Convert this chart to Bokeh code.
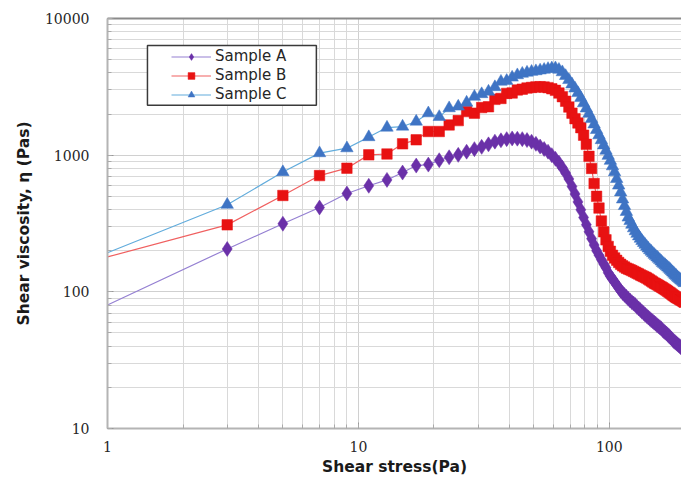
from bokeh.plotting import figure
from bokeh.models import (LogAxis, FixedTicker, BasicTickFormatter, Legend, LegendItem,
                          BoxAnnotation, ColumnDataSource, Range1d)
from bokeh.embed import file_html
from bokeh.resources import INLINE

stress = [1, 3, 5, 7, 9, 11, 13, 15, 17, 19,
          21, 23, 25, 27, 29, 31, 33, 35, 37, 39,
          41, 43, 45, 47, 49, 51, 53, 55, 57, 59,
          61, 63, 65, 67, 69, 71, 73, 75, 77, 79,
          81, 83, 85, 87, 89, 91, 93, 95, 97, 99,
          101, 103, 105, 107, 109, 111, 113, 115, 117, 119,
          121, 123, 125, 127, 129, 131, 133, 135, 137, 139,
          141, 143, 145, 147, 149, 151, 153, 155, 157, 159,
          161, 163, 165, 167, 169, 171, 173, 175, 177, 179,
          181, 183, 185, 187, 189, 191, 193, 195, 197, 199]

sample_a = [80, 206, 315, 414, 524, 597, 659, 746, 839, 853,
            918, 965, 1005, 1060, 1107, 1150, 1200, 1256, 1285, 1310,
            1325, 1320, 1310, 1290, 1255, 1210, 1156, 1110, 1060, 1000,
            940, 880, 810, 740, 670, 590, 520, 455, 398, 350,
            310, 275, 245, 220, 200, 185, 172, 160, 150, 138,
            130, 124, 118, 112, 107, 102, 98, 95, 92, 89,
            86.5, 84, 82, 80, 77.5, 75.5, 73.5, 71.5, 70, 68,
            66.5, 65, 63.5, 62, 61, 59.5, 58.5, 57, 56, 55,
            54, 52.5, 51.5, 50.5, 49.5, 48.5, 47.5, 46.5, 45.5, 44.5,
            43.5, 42.8, 42, 41.3, 40.6, 40, 39.3, 38.6, 38, 37.4]

sample_b = [180, 309, 507, 709, 803, 1005, 1020, 1210, 1295, 1490,
            1490, 1665, 1790, 2084, 2030, 2230, 2260, 2560, 2600, 2830,
            2850, 3000, 3040, 3100, 3130, 3160, 3170, 3150, 3120, 3060,
            2980, 2850, 2680, 2480, 2250, 2030, 1850, 1720, 1590, 1400,
            1200, 980, 800, 620, 500, 410, 330, 275, 240, 215,
            198, 185, 177, 170, 164, 159, 155, 152, 149, 147,
            145, 143, 141, 139, 137, 135, 133, 131, 129.5, 128,
            126, 124, 122, 120, 118, 116, 114.5, 113, 111.5, 110,
            108.5, 107, 105.5, 104, 102.5, 101, 99.5, 98, 96.5, 95,
            93.5, 92, 91, 90, 89, 88, 87, 86, 85, 84]

sample_c = [193, 434, 752, 1035, 1125, 1356, 1592, 1620, 1762, 2027,
            1905, 2208, 2270, 2425, 2680, 2800, 2920, 3150, 3452, 3500,
            3700, 3850, 3950, 4020, 4080, 4120, 4170, 4220, 4280, 4320,
            4330, 4220, 4050, 3800, 3550, 3300, 3080, 2850, 2620, 2400,
            2200, 2010, 1840, 1680, 1530, 1400, 1290, 1180, 1080, 990,
            910, 830, 750, 670, 600, 535, 475, 425, 385, 350,
            330, 310, 292, 278, 266, 255, 245, 236, 228, 221,
            214, 208, 202, 197, 192, 187, 183, 179, 175, 171,
            167, 163, 160, 157, 154, 151, 148, 145, 142, 139,
            136, 133, 131, 128, 126, 124, 122, 120, 118, 116]

series_names = ["Sample A", "Sample B", "Sample C"]

p = figure(width=681, height=478, x_axis_type="log", y_axis_type="log",
           x_range=Range1d(1, 194), y_range=Range1d(10, 10000),
           output_backend="svg", toolbar_location=None,
           min_border_left=107, min_border_right=0, min_border_top=18, min_border_bottom=0)
p.outline_line_color = None
p.background_fill_color = "white"
p.border_fill_color = "white"

# grid
for g in (p.xgrid[0], p.ygrid[0]):
    g.grid_line_color = "#d0d0d0"
    g.grid_line_width = 1
    g.minor_grid_line_color = "#d9d9d9"
    g.minor_grid_line_width = 1

# axes
for ax in (p.xaxis[0], p.yaxis[0]):
    ax.formatter = BasicTickFormatter(use_scientific=False)
    ax.major_label_text_font = "DejaVu Serif"
    ax.major_label_text_font_size = "14px"
    ax.major_label_text_color = "#262626"
    ax.axis_line_color = "#b4b4b4"
    ax.axis_line_width = 2
    ax.major_tick_in = 6
    ax.major_tick_out = 0
    ax.minor_tick_in = 4
    ax.minor_tick_out = 0
    ax.major_tick_line_color = "#999999"
    ax.minor_tick_line_color = "#aaaaaa"
    ax.axis_label_text_font = "DejaVu Sans"
    ax.axis_label_text_font_style = "bold"
    ax.axis_label_text_color = "#1a1a1a"

p.xaxis[0].axis_label = "Shear stress(Pa)"
p.xaxis[0].axis_label_text_font_size = "15.5px"
p.xaxis[0].major_label_standoff = 12
p.xaxis[0].axis_label_standoff = 3

p.yaxis[0].axis_label = "Shear viscosity, η (Pas)"
p.yaxis[0].axis_label_text_font_size = "15.5px"
p.yaxis[0].major_label_standoff = 18
p.yaxis[0].axis_label_standoff = 9

top = LogAxis(ticker=FixedTicker(ticks=[]), axis_line_color="#8a8a8a", axis_line_width=2,
              major_tick_line_color=None, minor_tick_line_color=None,
              major_label_text_font_size="0px")
p.add_layout(top, "above")

line_colors = ["#9580D2", "#F06060", "#62ACDC"]
marker_colors = ["#6A30A8", "#E81212", "#3F74C4"]
markers = ["diamond", "square", "triangle"]
sizes = [15, 10.5, 12.5]
values = [sample_a, sample_b, sample_c]

items = []
for name, vals, lc, mc, mk, sz in zip(series_names, values, line_colors, marker_colors, markers, sizes):
    src = ColumnDataSource(dict(x=stress, y=vals))
    msrc = ColumnDataSource(dict(x=stress[1:], y=vals[1:]))
    ln = p.line("x", "y", source=src, line_color=lc, line_width=1.2)
    sc = p.scatter("x", "y", source=msrc, marker=mk, size=sz,
                   fill_color=mc, line_color=mc, line_width=0.5)
    items.append(LegendItem(label=name, renderers=[ln, sc]))

box = BoxAnnotation(left=1.443, right=6.80, bottom=2317, top=6358,
                    fill_color="white", fill_alpha=1.0,
                    line_color="#3a3a3a", line_width=1.5, line_alpha=1.0)
p.add_layout(box)

legend = Legend(items=items, location=(64, 325), padding=3, spacing=1,
                label_height=17, glyph_height=17, glyph_width=40, label_standoff=4,
                border_line_color=None, background_fill_alpha=0.0, margin=0,
                label_text_font="DejaVu Sans", label_text_font_size="15px",
                label_text_color="#262626")
p.add_layout(legend)

open("out.html", "w").write(file_html(p, INLINE))
